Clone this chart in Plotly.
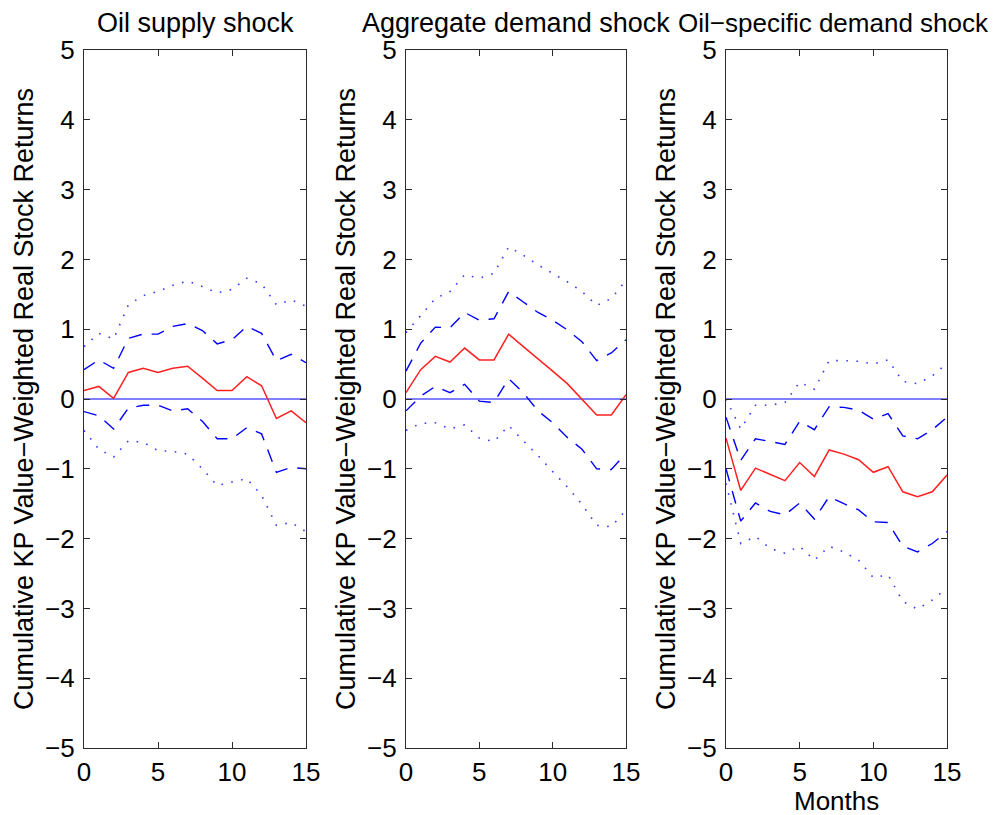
####################################
# IMPULSE RESPONSES - KP STOCK RETURNS
####################################
import plotly.graph_objects as go

months = list(range(16))

# oil supply shock
supply_resp = [0.12, 0.18, 0.01, 0.38, 0.44, 0.38, 0.44, 0.47, 0.30, 0.12, 0.12, 0.32, 0.19, -0.28, -0.17, -0.34]
supply_hi1 = [0.42, 0.56, 0.44, 0.87, 0.93, 0.93, 1.04, 1.08, 0.98, 0.79, 0.85, 1.04, 0.94, 0.55, 0.64, 0.52]
supply_lo1 = [-0.18, -0.24, -0.43, -0.13, -0.09, -0.09, -0.17, -0.14, -0.32, -0.57, -0.57, -0.41, -0.50, -1.05, -0.98, -1.0]
supply_hi2 = [0.75, 0.94, 0.86, 1.35, 1.48, 1.54, 1.63, 1.69, 1.61, 1.52, 1.57, 1.73, 1.65, 1.35, 1.42, 1.33]
supply_lo2 = [-0.45, -0.72, -0.83, -0.60, -0.62, -0.74, -0.75, -0.79, -1.00, -1.24, -1.19, -1.14, -1.38, -1.81, -1.77, -1.90]

# aggregate demand shock
agg_resp = [0.09, 0.42, 0.61, 0.53, 0.73, 0.56, 0.56, 0.93, 0.75, 0.58, 0.40, 0.22, 0.0, -0.23, -0.23, 0.06]
agg_hi1 = [0.40, 0.80, 1.03, 1.02, 1.24, 1.13, 1.15, 1.54, 1.39, 1.24, 1.13, 0.99, 0.82, 0.55, 0.66, 0.85]
agg_lo1 = [-0.17, 0.04, 0.18, 0.09, 0.21, -0.03, -0.05, 0.29, 0.09, -0.17, -0.34, -0.55, -0.72, -1.00, -1.01, -0.78]
agg_hi2 = [0.95, 1.19, 1.44, 1.54, 1.78, 1.73, 1.80, 2.18, 2.06, 1.92, 1.80, 1.68, 1.54, 1.34, 1.44, 1.70]
agg_lo2 = [-0.45, -0.35, -0.34, -0.43, -0.37, -0.56, -0.61, -0.38, -0.60, -0.81, -1.04, -1.26, -1.51, -1.81, -1.83, -1.59]

# oil-specific demand shock
spec_resp = [-0.56, -1.31, -0.99, -1.08, -1.17, -0.91, -1.11, -0.73, -0.79, -0.87, -1.05, -0.97, -1.33, -1.40, -1.33, -1.09]
spec_hi1 = [-0.26, -0.88, -0.57, -0.61, -0.65, -0.32, -0.44, -0.11, -0.12, -0.16, -0.29, -0.21, -0.53, -0.57, -0.44, -0.26]
spec_lo1 = [-1.0, -1.75, -1.49, -1.61, -1.66, -1.49, -1.72, -1.40, -1.50, -1.59, -1.76, -1.77, -2.11, -2.19, -2.07, -1.90]
spec_hi2 = [0.0, -0.43, -0.09, -0.09, -0.05, 0.24, 0.14, 0.55, 0.55, 0.54, 0.50, 0.56, 0.25, 0.22, 0.33, 0.51]
spec_lo2 = [-1.21, -2.07, -1.97, -2.14, -2.21, -2.11, -2.31, -2.11, -2.19, -2.31, -2.56, -2.52, -2.90, -3.01, -2.88, -2.71]

zero_x = [0, 15]
zero_y = [0, 0]

titles = ['Oil supply shock', 'Aggregate demand shock', 'Oil\u2212specific demand shock']
ylabel = 'Cumulative KP Value\u2212Weighted Real Stock Returns'
xlabel = 'Months'
x_ticks = [0, 5, 10, 15]
y_ticks = [-5, -4, -3, -2, -1, 0, 1, 2, 3, 4, 5]

FONT = 'Liberation Sans, Arial, sans-serif'
OFF = 8  # page body margin pushes the figure right/down
W, H = 1000 - OFF, 815
# pixel boxes of the three panels (page coordinates)
panels_px = [(84, 306), (406, 626), (726, 947)]
top_px, bottom_px = 50, 748


def px_x(p):
    return (p - OFF) / W


def px_y(p):
    return 1 - (p - OFF) / H


fig = go.Figure()


def add_panel(i, resp, hi1, lo1, hi2, lo2):
    '''
    One impulse response panel with 1 and 2 s.e. bands
    '''
    n = '' if i == 0 else str(i + 1)
    xa, ya = 'x' + n, 'y' + n
    fig.add_trace(go.Scatter(x=zero_x, y=zero_y, mode='lines', xaxis=xa, yaxis=ya,
                             line=dict(color='#0000ff', width=1.2)))
    for band in (hi2, lo2):
        fig.add_trace(go.Scatter(x=months, y=band, mode='lines', xaxis=xa, yaxis=ya,
                                 line=dict(color='#3a3aff', width=1.6, dash='1.6px,8.5px')))
    for band in (hi1, lo1):
        fig.add_trace(go.Scatter(x=months, y=band, mode='lines', xaxis=xa, yaxis=ya,
                                 line=dict(color='#0000ff', width=1.4, dash='13px,10px')))
    fig.add_trace(go.Scatter(x=months, y=resp, mode='lines', xaxis=xa, yaxis=ya,
                             line=dict(color='#ff2020', width=1.5)))

    x0, x1 = panels_px[i]
    axis_style = dict(showline=True, linecolor='#2b2b2b', linewidth=1.2, mirror='ticks',
                      ticks='inside', ticklen=6, tickcolor='#2b2b2b', showgrid=False,
                      zeroline=False, tickfont=dict(family=FONT, size=26, color='black'))
    fig.update_layout({
        'xaxis' + n: dict(domain=[px_x(x0), px_x(x1)], range=[0, 15], tickvals=x_ticks,
                          anchor=ya, ticklabelstandoff=1, **axis_style),
        'yaxis' + n: dict(domain=[px_y(bottom_px), px_y(top_px)], range=[-5, 5],
                          tickvals=y_ticks, anchor=xa, ticklabelstandoff=3, **axis_style),
    })
    # the last title runs up to the right edge of the page
    if i == 2:
        tx, anchor, size = px_x(991), 'right', 26
    else:
        tx, anchor, size = px_x((x0 + x1) / 2), 'center', 27
    fig.add_annotation(text=titles[i], xref='paper', yref='paper', x=tx,
                       y=px_y(23), xanchor=anchor, yanchor='middle', showarrow=False,
                       font=dict(family=FONT, size=size, color='black'))
    fig.add_annotation(text=ylabel, xref='paper', yref='paper', x=px_x(x0 - 60),
                       y=px_y((top_px + bottom_px) / 2), xanchor='center', yanchor='middle',
                       textangle=-90, showarrow=False,
                       font=dict(family=FONT, size=27, color='black'))


add_panel(0, supply_resp, supply_hi1, supply_lo1, supply_hi2, supply_lo2)
add_panel(1, agg_resp, agg_hi1, agg_lo1, agg_hi2, agg_lo2)
add_panel(2, spec_resp, spec_hi1, spec_lo1, spec_hi2, spec_lo2)

x0, x1 = panels_px[2]
fig.add_annotation(text=xlabel, xref='paper', yref='paper', x=px_x((x0 + x1) / 2),
                   y=px_y(801), xanchor='center', yanchor='middle', showarrow=False,
                   font=dict(family=FONT, size=26, color='black'))

fig.update_layout(width=W, height=H, template='none', showlegend=False,
                  paper_bgcolor='white', plot_bgcolor='white',
                  margin=dict(l=0, r=0, t=0, b=0))
fig.write_html("out.html")
